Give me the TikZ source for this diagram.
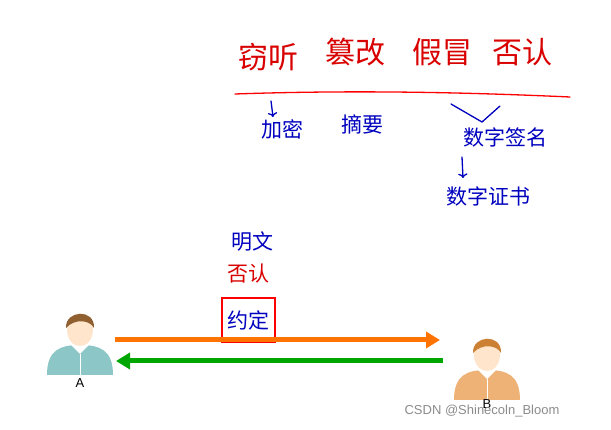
\documentclass[tikz,border=0pt]{standalone}
\usepackage{fontspec}
\usetikzlibrary{calc,arrows.meta}
\newfontfamily\cjk{Noto Sans CJK SC}
\setmainfont{Liberation Sans}
\begin{document}
\begin{tikzpicture}[x=1pt,y=-1pt,
  redt/.style={text=red!85!black,font=\cjk\fontsize{30}{32}\selectfont},
  bluet/.style={text=blue!75!black,font=\cjk\fontsize{21}{23}\selectfont},
  pen/.style={line width=1.3pt,line cap=round},
  arr/.style={line width=5pt,-{Triangle[length=14pt,width=16pt]}}]
\useasboundingbox (0,0) rectangle (611,430);
\fill[white] (0,0) rectangle (611,430);
% top red
\node[redt] (t1) at (268,57) {窃听};
\node[redt] (t2) at (355,52) {篡改};
\node[redt] (t3) at (442,52) {假冒};
\node[redt] (t4) at (522,52) {否认};
\draw[pen,red] (235,94) .. controls (350,90) and (460,92) .. (570,97);
% blue
\node[bluet] (b1) at (282,129) {加密};
\node[bluet] (b2) at (362,124) {摘要};
\node[bluet] (b3) at (505,137) {数字签名};
\node[bluet] (b4) at (488,196) {数字证书};
\draw[pen,blue!75!black,->] (271,101) -- (273,117);
\draw[pen,blue!75!black] (451,104) -- (482,122) -- (500,106);
\draw[pen,blue!75!black,->] (462,157) -- (463,178);
% middle
\node[bluet] (m1) at (252,242) {明文};
\node[text=red!85!black,font=\cjk\fontsize{21}{23}\selectfont] (m2) at (248,274) {否认};
\node[bluet] (m3) at (248,320) {约定};
\draw[pen,red] (222,298) rectangle (275,342);
% avatars
\coordinate (pa) at (80,330);
\coordinate (pb) at (487,355);
\foreach \p/\shirt/\hair in {pa/teal!45/brown!75!black, pb/brown!45!orange!60/brown!80!orange}{
  \fill[\shirt] ($(\p)+(-33,45)$) .. controls ($(\p)+(-33,20)$) and ($(\p)+(-20,15)$) .. ($(\p)+(0,15)$) .. controls ($(\p)+(20,15)$) and ($(\p)+(33,20)$) .. ($(\p)+(33,45)$) -- cycle;
  \fill[white] ($(\p)+(-10,14)$) -- ($(\p)+(0,24)$) -- ($(\p)+(10,14)$) -- cycle;
  \draw[white,line width=1pt] ($(\p)+(0,24)$) -- ($(\p)+(0,45)$);
  \fill[orange!20!white] ($(\p)+(0,0)$) ellipse (13 and 16);
  \fill[\hair] ($(\p)+(-14,-2)$) .. controls ($(\p)+(-15,-20)$) and ($(\p)+(15,-22)$) .. ($(\p)+(14,-2)$) .. controls ($(\p)+(10,-10)$) and ($(\p)+(-5,-12)$) .. ($(\p)+(-14,-2)$);
}
\node[font=\fontsize{13}{14}\selectfont] (la) at (80,383) {A};
\node[font=\fontsize{13}{14}\selectfont] (lb) at (487,404) {B};
% arrows
\coordinate (o1) at (115,340); \coordinate (o2) at (440,340);
\coordinate (g1) at (443,361); \coordinate (g2) at (116,361);
\draw[arr,orange!90!red] (o1) -- (o2);
\draw[arr,green!65!black] (g1) -- (g2);
\node[text=gray!90,font=\fontsize{13}{14}\selectfont] (wm) at (482,411) {CSDN @Shinecoln\_Bloom};
\end{tikzpicture}
\end{document}
